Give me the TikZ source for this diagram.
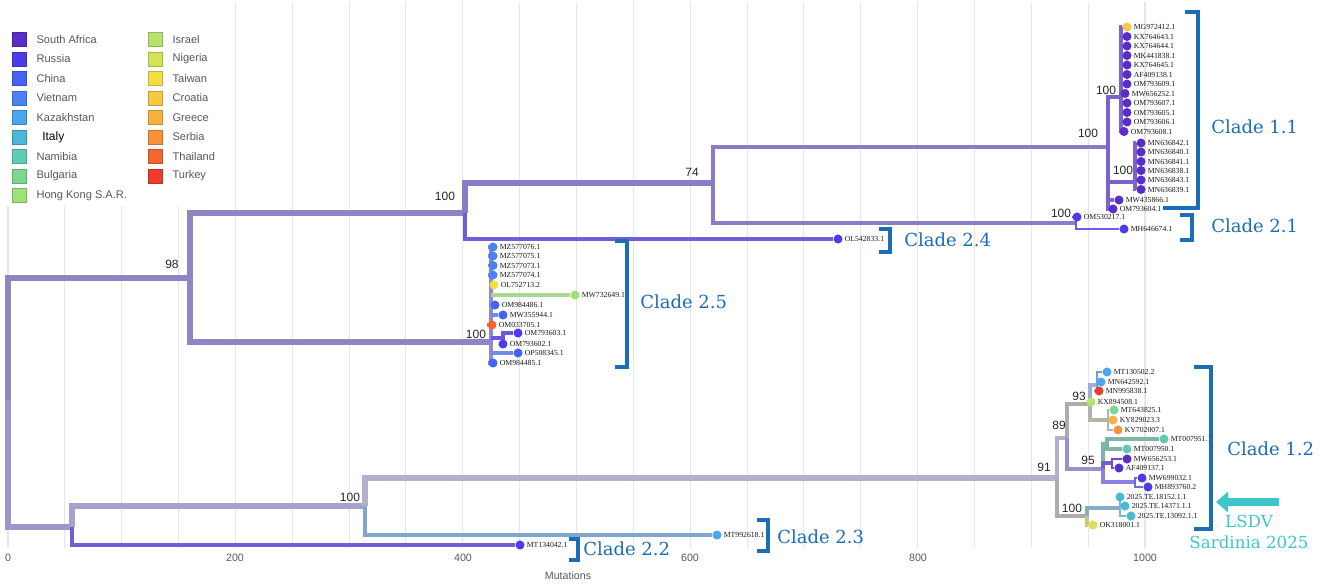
\documentclass[tikz,border=0pt]{standalone}
\usepackage{fontspec}
\setmainfont{Liberation Sans}
\newfontfamily\tipfont{Liberation Serif}
\newfontfamily\cladefont{DejaVu Serif}
\usetikzlibrary{arrows.meta}
\pgfdeclarelayer{gridlayer}
\pgfdeclarelayer{branchlayer}
\pgfsetlayers{gridlayer,branchlayer,main}

\definecolor{cSA}{HTML}{5A2DC8}
\definecolor{cRus}{HTML}{4B3CEA}
\definecolor{cChi}{HTML}{4463F0}
\definecolor{cVie}{HTML}{4A82F2}
\definecolor{cKaz}{HTML}{4AA6EE}
\definecolor{cIta}{HTML}{4AB8D6}
\definecolor{cNam}{HTML}{5ECDB4}
\definecolor{cBul}{HTML}{7DD88E}
\definecolor{cHK}{HTML}{9DE276}
\definecolor{cIsr}{HTML}{B7E36A}
\definecolor{cNig}{HTML}{D5E253}
\definecolor{cTai}{HTML}{F3DF43}
\definecolor{cCro}{HTML}{F7C842}
\definecolor{cGre}{HTML}{F8B03F}
\definecolor{cSer}{HTML}{F8923A}
\definecolor{cTha}{HTML}{F5662F}
\definecolor{cTur}{HTML}{EF3B2C}
\definecolor{cBlue}{HTML}{1B6DB5}
\definecolor{cTeal}{HTML}{3CC6C8}
\definecolor{gridc}{HTML}{E6E6E6}
\definecolor{bP1}{HTML}{8E86C3}
\definecolor{bP2}{HTML}{8A7CC6}
\definecolor{bP3}{HTML}{6F5FD6}
\definecolor{bP4}{HTML}{7B62CC}
\definecolor{bG0}{HTML}{9C97C8}
\definecolor{bG1}{HTML}{A6A3CB}
\definecolor{bG2}{HTML}{B2B0CC}
\definecolor{bGr}{HTML}{ADADAD}
\definecolor{bBG}{HTML}{82A7CC}
\definecolor{bRu}{HTML}{6A5EEA}
\definecolor{bSp}{HTML}{8B8AD2}
\definecolor{bHK}{HTML}{A8D890}
\definecolor{bCh}{HTML}{6D8DE8}
\definecolor{bRu2}{HTML}{6A58E0}
\definecolor{bPg}{HTML}{9A8FCF}
\definecolor{bKz}{HTML}{9CB0D8}
\definecolor{bKz2}{HTML}{6C9EE6}
\definecolor{bGy}{HTML}{B4B4AC}
\definecolor{bNm}{HTML}{7FB5A6}
\definecolor{bSA}{HTML}{7A5ED0}
\definecolor{bSA2}{HTML}{6A4FD0}
\definecolor{bRu3}{HTML}{8C80E0}
\definecolor{bRu4}{HTML}{7068E0}
\definecolor{bIt}{HTML}{86AEBF}
\definecolor{bIt2}{HTML}{74BCD0}
\definecolor{bNg}{HTML}{C9C97A}

\newcommand\tipnode[5]{%
  \node[dot, fill=#4] (#1) at (#2,#3) {};
  \node[tiplab] (#1-l) at ([xshift=1.3pt]#1.east) {#5};}
\newcommand\legitem[5]{%
  \node[legsq, fill=#4, draw=#4!80!black] (#1) at (#2,#3) {};
  \node[legtxt] (#1-l) at ([xshift=7.5pt]#1.east) {#5};}

\begin{document}
\begin{tikzpicture}[x=0.75pt,y=-0.75pt,
  dot/.style={circle,inner sep=0pt,minimum size=6.8pt},
  tiplab/.style={anchor=west,inner sep=0pt,font=\tipfont\fontsize{5.8}{6}\selectfont,text=black!90},
  bs/.style={inner sep=0pt,font=\fontsize{9}{10}\selectfont,text=black!85},
  legsq/.style={rectangle,inner sep=0pt,minimum size=10.5pt,line width=0.5pt},
  legtxt/.style={anchor=west,inner sep=0pt,font=\fontsize{8.3}{9}\selectfont,text=black!65},
  br/.style 2 args={draw=#1,line width=#2},
  brk/.style={draw=cBlue,line width=2.3pt},
  cl/.style={inner sep=0pt,anchor=west,font=\cladefont\fontsize{13.5}{15}\selectfont,text=cBlue},
  axl/.style={inner sep=0pt,font=\fontsize{8}{9}\selectfont,text=black!65},
  gridl/.style={draw=gridc,line width=0.8pt}]
\useasboundingbox (0,0) rectangle (1332,586);

% grid
\begin{pgfonlayer}{gridlayer}
\foreach \k in {0,...,20} \draw[gridl] ({8+56.85*\k},2) -- ({8+56.85*\k},548);
\end{pgfonlayer}

% legend
\fill[white] (0,0) rectangle (232,206);
\legitem{lg1}{19}{39.5}{cSA}{South Africa}
\legitem{lg2}{19}{59}{cRus}{Russia}
\legitem{lg3}{19}{78.5}{cChi}{China}
\legitem{lg4}{19}{98}{cVie}{Vietnam}
\legitem{lg5}{19}{117.5}{cKaz}{Kazakhstan}
\node[legsq, fill=cIta, draw=cIta!80!black] (lg6) at (19,137) {};
\node[legtxt, text=black, font=\fontsize{9}{10}\selectfont] (lg6-l) at (42,137) {Italy};
\legitem{lg7}{19}{156.5}{cNam}{Namibia}
\legitem{lg8}{19}{176}{cBul}{Bulgaria}
\legitem{lg9}{19}{195.5}{cHK}{Hong Kong S.A.R.}
\legitem{lg10}{155}{39.5}{cIsr}{Israel}
\legitem{lg11}{155}{59}{cNig}{Nigeria}
\legitem{lg12}{155}{78.5}{cTai}{Taiwan}
\legitem{lg13}{155}{98}{cCro}{Croatia}
\legitem{lg14}{155}{117.5}{cGre}{Greece}
\legitem{lg15}{155}{137}{cSer}{Serbia}
\legitem{lg16}{155}{156.5}{cTha}{Thailand}
\legitem{lg17}{155}{176}{cTur}{Turkey}

% internal nodes
\coordinate (root) at (8,400);
\coordinate (n98) at (190,278);
\coordinate (nB) at (72,527);
\coordinate (n100a) at (465,213);
\coordinate (n25) at (491,342);
\coordinate (g2) at (503,338);
\coordinate (n74) at (713,183);
\coordinate (n11) at (1108,147);
\coordinate (n21) at (1076,223);
\coordinate (n11a) at (1121,97);
\coordinate (n11b) at (1135,182);
\coordinate (n100c) at (365,506);
\coordinate (n91) at (1057,478);
\coordinate (n89) at (1067,438);
\coordinate (n93) at (1090,404);
\coordinate (s93a) at (1097,385);
\coordinate (s93b) at (1108,420);
\coordinate (n95) at (1103,469);
\coordinate (s95a) at (1107,444);
\coordinate (s95b) at (1112,463);
\coordinate (s95c) at (1135,482);
\coordinate (n100d) at (1087,516);
\coordinate (s100) at (1120,508);

% tips clade 1.1
\tipnode{a1}{1127}{27}{cCro}{MG972412.1}
\tipnode{a2}{1127}{36.5}{cSA}{KX764643.1}
\tipnode{a3}{1127}{46}{cSA}{KX764644.1}
\tipnode{a4}{1127}{55.5}{cSA}{MK441838.1}
\tipnode{a5}{1127}{65}{cSA}{KX764645.1}
\tipnode{a6}{1127}{74.5}{cSA}{AF409138.1}
\tipnode{a7}{1127}{84}{cSA}{OM793609.1}
\tipnode{a8}{1125}{93.5}{cSA}{MW656252.1}
\tipnode{a9}{1127}{103}{cSA}{OM793607.1}
\tipnode{a10}{1127}{112.5}{cSA}{OM793605.1}
\tipnode{a11}{1127}{122}{cSA}{OM793606.1}
\tipnode{a12}{1124}{131.5}{cSA}{OM793608.1}
\tipnode{b1}{1141}{143}{cSA}{MN636842.1}
\tipnode{b2}{1141}{152}{cSA}{MN636840.1}
\tipnode{b3}{1141}{161.5}{cSA}{MN636841.1}
\tipnode{b4}{1141}{170.5}{cSA}{MN636838.1}
\tipnode{b5}{1141}{180}{cSA}{MN636843.1}
\tipnode{b6}{1141}{189.5}{cSA}{MN636839.1}
\tipnode{c1}{1119}{200}{cSA}{MW435866.1}
\tipnode{c2}{1113}{209}{cSA}{OM793604.1}
\tipnode{d1}{1077}{217}{cRus}{OM530217.1}
\tipnode{d2}{1124}{229}{cRus}{MH646674.1}
\tipnode{e1}{838}{239}{cRus}{OL542833.1}
% clade 2.5
\tipnode{f1}{493}{247}{cVie}{MZ577076.1}
\tipnode{f2}{493}{256}{cVie}{MZ577075.1}
\tipnode{f3}{493}{265.5}{cVie}{MZ577073.1}
\tipnode{f4}{493}{275}{cVie}{MZ577074.1}
\tipnode{f5}{494}{285}{cTai}{OL752713.2}
\tipnode{f6}{575}{295}{cHK}{MW732649.1}
\tipnode{f7}{495}{305}{cChi}{OM984486.1}
\tipnode{f8}{503}{315}{cChi}{MW355944.1}
\tipnode{f9}{492}{325}{cTha}{OM033705.1}
\tipnode{f10}{518}{333}{cRus}{OM793603.1}
\tipnode{f11}{503}{344}{cRus}{OM793602.1}
\tipnode{f12}{518}{353}{cChi}{OP508345.1}
\tipnode{f13}{493}{363}{cChi}{OM984485.1}
% clade 1.2
\tipnode{h1}{1107}{372}{cKaz}{MT130502.2}
\tipnode{h2}{1101}{382}{cKaz}{MN642592.1}
\tipnode{h3}{1099}{391}{cTur}{MN995838.1}
\tipnode{h4}{1091}{402}{cIsr}{KX894508.1}
\tipnode{h5}{1114}{410}{cBul}{MT643825.1}
\tipnode{h6}{1113}{420}{cGre}{KY829023.3}
\tipnode{h7}{1118}{430}{cSer}{KY702007.1}
\tipnode{h8}{1164}{439}{cNam}{MT007951.1}
\tipnode{h9}{1127}{449}{cNam}{MT007950.1}
\tipnode{h10}{1127}{459}{cSA}{MW656253.1}
\tipnode{h11}{1119}{468}{cSA}{AF409137.1}
\tipnode{h12}{1142}{478}{cRus}{MW699032.1}
\tipnode{h13}{1148}{487}{cRus}{MH893760.2}
\tipnode{h14}{1120}{497}{cIta}{2025.TE.18152.1.1}
\tipnode{h15}{1125}{506}{cIta}{2025.TE.14371.1.1}
\tipnode{h16}{1131}{516}{cIta}{2025.TE.13092.1.1}
\tipnode{h17}{1093}{525}{cNig}{OK318001.1}
% clades 2.2 / 2.3
\tipnode{i1}{520}{545}{cRus}{MT134042.1}
\tipnode{i2}{717}{535}{cKaz}{MT992618.1}

% branches
\begin{pgfonlayer}{branchlayer}
\draw[br={bP1}{5.2pt}] (root) |- (n98);
\draw[br={bG0}{5.2pt}] (root) |- (nB);
\draw[br={bP1}{4.6pt}] (n98) |- (n100a);
\draw[br={bP1}{4.6pt}] (n98) |- (n25);
\draw[br={bP2}{4pt}] (n100a) |- (n74);
\draw[br={bP3}{2.6pt}] (n100a) |- (e1);
\draw[br={bP2}{3.6pt}] (n74) |- (n11);
\draw[br={bP2}{2.8pt}] (n74) |- (n21);
\draw[br={bRu}{2pt}] (n21) |- (d1);
\draw[br={bRu}{2pt}] (n21) |- (d2);
\draw[br={bP4}{3pt}] (n11) |- (n11a);
\draw[br={bP4}{3pt}] (n11) |- (n11b);
\draw[br={bP4}{2.6pt}] (n11) |- (c1);
\draw[br={bP4}{2.6pt}] (n11) |- (c2);
\foreach \t in {a1,a2,a3,a4,a5,a6,a7,a8,a9,a10,a11,a12}
  \draw[br={bP4}{2.4pt}] (n11a) |- (\t);
\foreach \t in {b1,b2,b3,b4,b5,b6}
  \draw[br={bP4}{2.4pt}] (n11b) |- (\t);
% clade 2.5
\draw[br={bSp}{2.6pt}] (n25 |- f1) -- (n25 |- f13);
\foreach \t in {f1,f2,f3,f4,f5,f7,f9,f13}
  \draw[br={bSp}{2.4pt}] (n25 |- \t) -- (\t);
\draw[br={bHK}{3pt}] (n25 |- f6) -- (f6);
\draw[br={bCh}{2.4pt}] (n25 |- f8) -- (f8);
\draw[br={bCh}{2.4pt}] (n25 |- f12) -- (f12);
\draw[br={bRu2}{2.4pt}] (n25 |- g2) -- (g2);
\draw[br={bRu2}{2.4pt}] (g2) |- (f10);
\draw[br={bRu2}{2.4pt}] (g2) |- (f11);
% lower tree
\draw[br={bG1}{4.6pt}] (nB) |- (n100c);
\draw[br={bP3}{2.8pt}] (nB) |- (i1);
\draw[br={bG2}{4.2pt}] (n100c) |- (n91);
\draw[br={bBG}{2.6pt}] (n100c) |- (i2);
\draw[br={bG2}{3.6pt}] (n91) |- (n89);
\draw[br={bGr}{3.6pt}] (n91) |- (n100d);
\draw[br={bGr}{3pt}] (n89) |- (n93);
\draw[br={bPg}{3pt}] (n89) |- (n95);
\draw[br={bKz}{2.4pt}] (n93) |- (s93a);
\draw[br={bGy}{2.4pt}] (n93) |- (s93b);
\foreach \t in {h1,h2,h3} \draw[br={bKz2}{2.2pt}] (s93a) |- (\t);
\foreach \t in {h5,h6,h7} \draw[br={bGy}{2.2pt}] (s93b) |- (\t);
\draw[br={bNm}{2.6pt}] (n95) |- (s95a);
\draw[br={bSA}{2.6pt}] (n95) |- (s95b);
\draw[br={bRu3}{2.6pt}] (n95) |- (s95c);
\foreach \t in {h8,h9} \draw[br={bNm}{2.4pt}] (s95a) |- (\t);
\foreach \t in {h10,h11} \draw[br={bSA2}{2.2pt}] (s95b) |- (\t);
\foreach \t in {h12,h13} \draw[br={bRu4}{2.2pt}] (s95c) |- (\t);
\draw[br={bIt}{2.6pt}] (n100d) |- (s100);
\draw[br={bNg}{2.4pt}] (n100d) |- (h17);
\foreach \t in {h14,h15,h16} \draw[br={bIt2}{2.2pt}] (s100) |- (\t);
\end{pgfonlayer}

% bootstrap labels
\node[bs] (l98) at (172,264) {98};
\node[bs] (l100a) at (445,196) {100};
\node[bs] (l74) at (692,172) {74};
\node[bs] (l11) at (1088,133) {100};
\node[bs] (l11a) at (1106,90) {100};
\node[bs] (l11b) at (1123,170) {100};
\node[bs] (l21) at (1061,213) {100};
\node[bs] (l25) at (476,334) {100};
\node[bs] (l100c) at (350,497) {100};
\node[bs] (l91) at (1044,467) {91};
\node[bs] (l89) at (1059,425) {89};
\node[bs] (l93) at (1079,396) {93};
\node[bs] (l95) at (1088,460) {95};
\node[bs] (l100d) at (1072,508) {100};

% brackets
\draw[brk] (1185,12) -- (1198,12) -- (1198,208) -- (1163,208);
\draw[brk] (1180,215) -- (1192,215) -- (1192,240) -- (1180,240);
\draw[brk] (1194,367) -- (1211,367) -- (1211,529) -- (1194,529);
\draw[brk] (615,241) -- (627,241) -- (627,367) -- (615,367);
\draw[brk] (879,229) -- (890,229) -- (890,252) -- (879,252);
\draw[brk] (757,520) -- (768,520) -- (768,551) -- (757,551);
\draw[brk] (569,539) -- (578,539) -- (578,560) -- (569,560);

% clade labels
\node[cl] (c11) at (1211,127) {Clade 1.1};
\node[cl] (c21) at (1211,226) {Clade 2.1};
\node[cl] (c12) at (1227,449) {Clade 1.2};
\node[cl] (c25) at (640,302) {Clade 2.5};
\node[cl] (c24) at (904,240) {Clade 2.4};
\node[cl] (c23) at (777,537) {Clade 2.3};
\node[cl] (c22) at (583,549) {Clade 2.2};

% LSDV arrow
\coordinate (arS) at (1279,502);
\coordinate (arE) at (1216,502);
\draw[draw=cTeal, line width=6pt, -{Triangle[length=9pt,width=15pt]}] (arS) -- (arE);
\node[inner sep=0pt, align=center, text=cTeal, font=\cladefont\fontsize{12.5}{15.5}\selectfont] (lsdv) at (1249,532) {LSDV\\Sardinia 2025};

% axis
\node[axl] (ax0) at (8,558) {0};
\node[axl] (ax200) at (235,558) {200};
\node[axl] (ax400) at (463,558) {400};
\node[axl] (ax600) at (690,558) {600};
\node[axl] (ax800) at (918,558) {800};
\node[axl] (ax1000) at (1145,558) {1000};
\node[axl] (axt) at (568,576) {Mutations};
\end{tikzpicture}
\end{document}
